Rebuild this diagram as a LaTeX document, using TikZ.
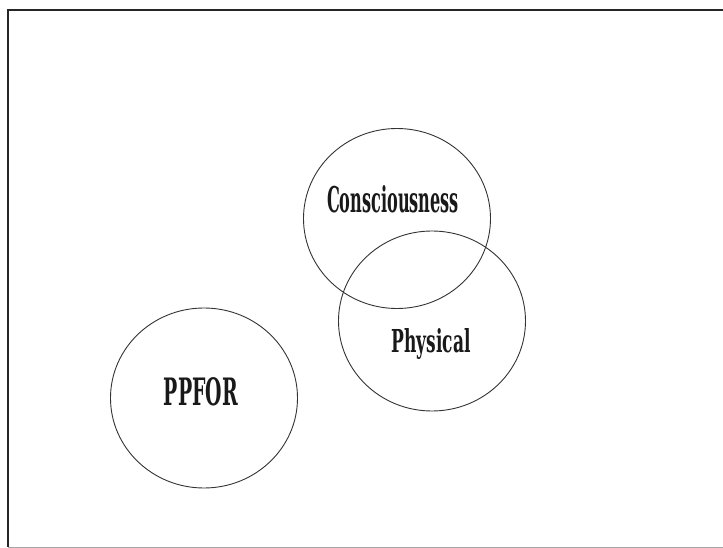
\documentclass[tikz,border=0pt]{standalone}
\usepackage{graphicx}
\usepackage{fontspec}
\setmainfont{DejaVu Serif}
\usetikzlibrary{shapes.geometric}
\tikzset{
  set/.style={draw=black!80, line width=0.9pt, ellipse, inner sep=0pt,
              minimum width=187pt, minimum height=180pt},
  lbl/.style={inner sep=0pt, text=black!90, font=\bfseries},
  frame/.style={draw=black!85, line width=1.6pt},
}
\begin{document}
\begin{tikzpicture}[x=1pt, y=-1pt]
\useasboundingbox (0,0) rectangle (723,548);
% frame
\coordinate (tl) at (8,10);
\coordinate (tr) at (725,10);
\coordinate (bl) at (8,547);
\coordinate (br) at (725,547);
\draw[frame] (tr) -- (tl) -- (bl);
\draw[draw=black!35, line width=1pt] (bl) -- (br);
% sets
\node[set] (cons) at (397,218.5) {};
\node[set] (phys) at (432,321) {};
\node[set] (ppfor) at (204,398) {};
% labels
\node[lbl, anchor=base] (tcons) at (393,213) {\resizebox{132pt}{27pt}{Consciousness}};
\node[lbl, anchor=base] (tphys) at (431,352) {\resizebox{79pt}{24pt}{Physical}};
\node[lbl, anchor=base] (tppfor) at (201,405) {\resizebox{74pt}{28pt}{PPFOR}};
\end{tikzpicture}
\end{document}
